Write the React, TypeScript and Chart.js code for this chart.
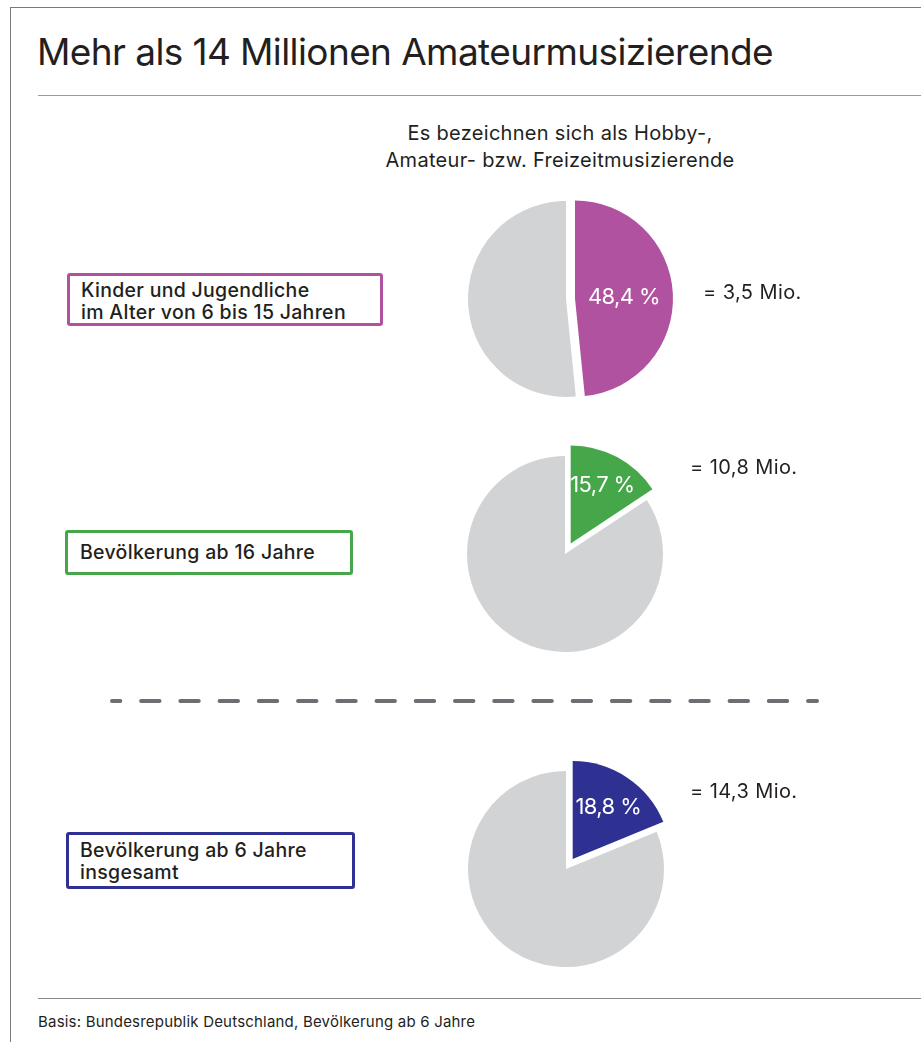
import React, { useEffect, useRef } from 'react';
import { Chart, registerables } from 'chart.js';

Chart.register(...registerables);

// ---------- data ----------
const title = 'Mehr als 14 Millionen Amateurmusizierende';
const subtitleLines = ['Es bezeichnen sich als Hobby-,', 'Amateur- bzw. Freizeitmusizierende'];
const categoryLines = [
  ['Kinder und Jugendliche', 'im Alter von 6 bis 15 Jahren'],
  ['Bevölkerung ab 16 Jahre'],
  ['Bevölkerung ab 6 Jahre', 'insgesamt'],
];
const shares = [48.4, 15.7, 18.8];
const millions = [3.5, 10.8, 14.3];
const footnote = 'Basis: Bundesrepublik Deutschland, Bevölkerung ab 6 Jahre';

// ---------- styles / layout ----------
const sliceColors = ['#B0529F', '#45A74A', '#2E3192'];
const restColor = '#D1D3D4';
const explode = [9, 12, 12];
const labelRadius = [49, 67, 64];
const pieCenters = [
  [566, 299],
  [565, 554],
  [566, 868.5],
];
const PIE_R = 98;
const CANVAS = 280;
const FONT = 'Inter, Roboto, "Liberation Sans", Arial, sans-serif';
const TEXT = '#231F20';

const boxes = [
  { left: 67, top: 273, w: 316, h: 53, textLeft: 81, textTop: 278.6 },
  { left: 65, top: 530, w: 288, h: 45, textLeft: 80, textTop: 541.2 },
  { left: 66, top: 832, w: 289, h: 57, textLeft: 80, textTop: 838.6 },
];
const valueLabels = [
  { left: 703, top: 282 },
  { left: 690, top: 457 },
  { left: 690, top: 780.5 },
];

const fmt = (v: number) => v.toFixed(1).replace('.', ',');

function Pie({ index }: { index: number }) {
  const ref = useRef<HTMLCanvasElement>(null);
  useEffect(() => {
    if (!ref.current) return;
    const share = shares[index];
    const off = [explode[index], 0];
    const plugin = {
      id: 'explodeAndLabel' + index,
      beforeDatasetDraw(chart: any, args: any) {
        const ctx = chart.ctx;
        args.meta.data.forEach((arc: any, i: number) => {
          const half = (arc.startAngle + arc.endAngle) / 2;
          ctx.save();
          ctx.translate(Math.cos(half) * off[i], Math.sin(half) * off[i]);
          arc.draw(ctx);
          ctx.restore();
        });
        return false;
      },
      afterDatasetsDraw(chart: any) {
        const ctx = chart.ctx;
        const arc = chart.getDatasetMeta(0).data[0];
        const half = (arc.startAngle + arc.endAngle) / 2;
        const r = off[0] + labelRadius[index];
        const x = arc.x + Math.cos(half) * r;
        const y = arc.y + Math.sin(half) * r;
        const fs = 22;
        ctx.save();
        ctx.font = `400 ${fs}px ${FONT}`;
        try {
          (ctx as any).letterSpacing = '-0.6px';
        } catch (e) {}
        ctx.fillStyle = '#FFFFFF';
        ctx.textAlign = 'center';
        ctx.textBaseline = 'alphabetic';
        ctx.fillText(fmt(share) + ' %', x, y + 0.3635 * fs);
        ctx.restore();
      },
    };
    const chart = new Chart(ref.current, {
      type: 'pie',
      data: {
        labels: [categoryLines[index].join(' '), 'übrige'],
        datasets: [
          {
            data: [share, +(100 - share).toFixed(1)],
            backgroundColor: [sliceColors[index], restColor],
            borderWidth: 0,
            radius: PIE_R,
          } as any,
        ],
      },
      options: {
        responsive: false,
        maintainAspectRatio: false,
        animation: false,
        events: [],
        layout: { padding: 0 },
        plugins: { legend: { display: false }, tooltip: { enabled: false } },
      },
      plugins: [plugin as any],
    });
    return () => chart.destroy();
  }, [index]);
  const [cx, cy] = pieCenters[index];
  return (
    <canvas
      ref={ref}
      width={CANVAS}
      height={CANVAS}
      style={{ position: 'absolute', left: cx - CANVAS / 2, top: cy - CANVAS / 2, width: CANVAS, height: CANVAS }}
    />
  );
}

export default function App() {
  const abs = (o: React.CSSProperties): React.CSSProperties => ({ position: 'absolute', ...o });
  return (
    <div
      style={{
        position: 'fixed',
        left: 0,
        top: 0,
        width: 921,
        height: 1042,
        overflow: 'hidden',
        background: '#FFFFFF',
        fontFamily: FONT,
        color: TEXT,
      }}
    >
      {/* frame */}
      <div style={abs({ left: 10, top: 7, width: 2000, height: 2000, borderLeft: '1px solid #7A7A7A', borderTop: '1px solid #7A7A7A' })} />
      {/* title */}
      <div style={abs({ left: 37, top: 33, fontSize: 37, lineHeight: '37px', letterSpacing: -0.6, whiteSpace: 'nowrap' })}>{title}</div>
      <div style={abs({ left: 38, top: 95, width: 900, height: 1, background: '#9A9A9A' })} />
      {/* subtitle */}
      <div style={abs({ left: 360, top: 119.7, width: 400, fontSize: 20, lineHeight: '27.5px', textAlign: 'center', whiteSpace: 'nowrap', letterSpacing: 0.3 })}>
        {subtitleLines.map((l, i) => (
          <div key={i}>{l}</div>
        ))}
      </div>
      {/* category boxes */}
      {boxes.map((b, i) => (
        <React.Fragment key={i}>
          <div
            style={abs({
              left: b.left,
              top: b.top,
              width: b.w,
              height: b.h,
              boxSizing: 'border-box',
              border: `3px solid ${sliceColors[i]}`,
              borderRadius: 3,
            })}
          />
          <div style={abs({ left: b.textLeft, top: b.textTop, fontSize: 19.5, lineHeight: '22px', fontWeight: 500, whiteSpace: 'nowrap', letterSpacing: 0.3 })}>
            {categoryLines[i].map((l, j) => (
              <div key={j}>{l}</div>
            ))}
          </div>
        </React.Fragment>
      ))}
      {/* pies */}
      {shares.map((_, i) => (
        <Pie key={i} index={i} />
      ))}
      {/* value labels */}
      {valueLabels.map((v, i) => (
        <div key={i} style={abs({ left: v.left, top: v.top, fontSize: 20, lineHeight: '20px', whiteSpace: 'nowrap', letterSpacing: 0.4 })}>
          = {fmt(millions[i])} Mio.
        </div>
      ))}
      {/* dashed separator */}
      <svg style={abs({ left: 0, top: 690, width: 921, height: 24 })} width={921} height={24}>
        <line
          x1={112}
          y1={11}
          x2={817}
          y2={11}
          stroke="#6D6E71"
          strokeWidth={4}
          strokeLinecap="round"
          strokeDasharray="18.4 20.83"
          strokeDashoffset={10.1}
        />
      </svg>
      {/* footer */}
      <div style={abs({ left: 38, top: 998, width: 900, height: 1, background: '#8A8A8A' })} />
      <div style={abs({ left: 38, top: 1013.6, fontSize: 15, lineHeight: '15px', whiteSpace: 'nowrap', letterSpacing: 0.2 })}>{footnote}</div>
    </div>
  );
}
